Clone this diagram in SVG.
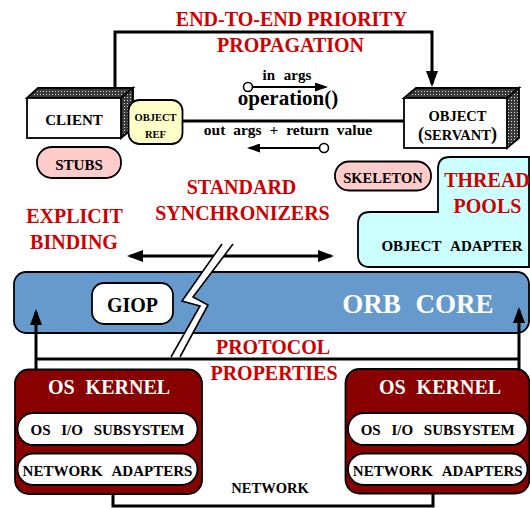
<svg xmlns="http://www.w3.org/2000/svg" width="530" height="508" viewBox="0 0 530 508">
<defs>
<style>
text{font-family:"Liberation Serif","Times New Roman",serif;font-weight:bold;text-anchor:middle;}
.red{fill:#cc0000;font-size:20px;}
.blk{fill:#000;}
.wht{fill:#fff;}
.box{stroke:#000;stroke-width:1.8;}
.ln{fill:none;stroke:#000;stroke-width:3;}
.thin{fill:none;stroke:#000;stroke-width:2;}
.pill{fill:#fff;stroke:#000;stroke-width:1.8;}
</style>
<pattern id="dots" width="3" height="3" patternUnits="userSpaceOnUse">
<rect width="3" height="3" fill="#3a3a3a"/>
<rect x="1" y="1" width="1" height="1" fill="#e0e0e0"/>
</pattern>
<marker id="ah" viewBox="0 0 16 12" refX="13" refY="6" markerWidth="16" markerHeight="12" markerUnits="userSpaceOnUse" orient="auto-start-reverse">
<path d="M0,0 L16,6 L0,12 z" fill="#000"/>
</marker>
<marker id="as" viewBox="0 0 13 9" refX="11" refY="4.5" markerWidth="13" markerHeight="9" markerUnits="userSpaceOnUse" orient="auto-start-reverse">
<path d="M0,0 L13,4.5 L0,9 z" fill="#000"/>
</marker>
</defs>

<g id="connectors">
<path class="ln" d="M115,88 V32 H432 V84" marker-end="url(#ah)"/>
<line class="ln" x1="182" y1="121" x2="405" y2="121"/>
<line class="thin" x1="252.5" y1="87" x2="326" y2="87" marker-end="url(#as)"/>
<circle cx="248" cy="87" r="4.5" fill="#fff" stroke="#000" stroke-width="1.6"/>
<line class="thin" x1="319.5" y1="148" x2="249" y2="148" marker-end="url(#as)"/>
<circle cx="324" cy="148" r="4.5" fill="#fff" stroke="#000" stroke-width="1.6"/>
<line class="ln" x1="130" y1="256" x2="331" y2="256" marker-start="url(#ah)" marker-end="url(#ah)"/>
<path class="ln" d="M113,494 V506 H433 V493"/>
</g>

<g id="title">
<text class="red" x="291.5" y="26">END-TO-END PRIORITY</text>
<text class="red" x="290.5" y="52">PROPAGATION</text>
</g>

<g id="operation-labels">
<text class="blk" x="287" y="80" font-size="15" word-spacing="5">in args</text>
<text class="blk" x="288" y="105" font-size="21">operation()</text>
<text class="blk" x="288" y="135" font-size="15.5" word-spacing="4">out args + return value</text>
</g>

<g id="client">
<polygon points="27,98 38,88 133,88 121,98" fill="url(#dots)" class="box"/>
<polygon points="121,98 133,88 133,128 121,138" fill="url(#dots)" class="box"/>
<rect x="27" y="98" width="94" height="40" fill="#fff" class="box"/>
<text class="blk" x="74" y="125" font-size="15">CLIENT</text>
</g>

<g id="object-ref">
<rect x="128.5" y="100" width="54" height="44" rx="11" fill="#ffffc8" class="box"/>
<text class="blk" x="155.5" y="120.5" font-size="10.5">OBJECT</text>
<text class="blk" x="155.5" y="138" font-size="10.5">REF</text>
</g>

<g id="servant">
<polygon points="404,98 416,88 519,88 507,98" fill="url(#dots)" class="box"/>
<polygon points="507,98 519,88 519,138 507,148" fill="url(#dots)" class="box"/>
<rect x="404" y="98" width="103" height="50" fill="#fff" class="box"/>
<text class="blk" x="457.5" y="120.5" font-size="14.5">OBJECT</text>
<text class="blk" x="457.5" y="140" font-size="14.5"><tspan font-size="18">(</tspan>SERVANT<tspan font-size="18">)</tspan></text>
</g>

<g id="stubs">
<rect x="37" y="147" width="84" height="31" rx="15" fill="#ffcccc" class="box"/>
<text class="blk" x="79" y="170" font-size="15">STUBS</text>
</g>

<g id="skeleton">
<rect x="335" y="161.5" width="96" height="29" rx="14" fill="#ffcccc" class="box"/>
<text class="blk" x="383" y="183" font-size="14.5">SKELETON</text>
</g>

<g id="object-adapter">
<path d="M450,157 H529 V267 H370 Q358,267 358,255 V224 Q358,212 370,212 H438 V169 Q438,157 450,157 Z" fill="#ccffff" class="box"/>
<text class="red" x="487" y="187">THREAD</text>
<text class="red" x="487.5" y="213">POOLS</text>
<text class="blk" x="452" y="251" font-size="15" word-spacing="6">OBJECT ADAPTER</text>
</g>

<g id="synchronizers">
<text class="red" x="241.5" y="194">STANDARD</text>
<text class="red" x="242.5" y="220">SYNCHRONIZERS</text>
</g>

<g id="binding">
<text class="red" x="74.5" y="223">EXPLICIT</text>
<text class="red" x="74" y="249">BINDING</text>
</g>

<g id="orb-core">
<rect x="14" y="272" width="515" height="61" rx="12" fill="#6699cc" class="box"/>
<text class="wht" x="418" y="313" font-size="27" word-spacing="8">ORB CORE</text>
</g>

<g id="giop">
<rect x="92" y="283" width="81" height="41" rx="12" fill="#fff" class="box"/>
<text class="blk" x="132.5" y="311.5" font-size="20">GIOP</text>
</g>

<g id="break">
<polygon points="222,244 182,301 200,306 171,357 180,357 208,305 193,297 233,244" fill="#fff"/>
<polyline points="222,244 182,301 200,306 171,357" fill="none" stroke="#000" stroke-width="1.6"/>
<polyline points="233,244 193,297 208,305 180,357" fill="none" stroke="#000" stroke-width="1.6"/>
</g>

<g id="protocol">
<path class="ln" d="M36,359 H519"/>
<line class="ln" x1="36" y1="312" x2="36" y2="394" marker-start="url(#ah)" marker-end="url(#ah)"/>
<line class="ln" x1="519" y1="310" x2="519" y2="392" marker-start="url(#ah)" marker-end="url(#ah)"/>
<text class="red" x="273" y="354">PROTOCOL</text>
<text class="red" x="274" y="380">PROPERTIES</text>
</g>

<g id="os-kernel-left">
<rect x="15" y="369.5" width="187" height="124.5" rx="14" fill="#880000" class="box"/>
<text class="wht" x="109" y="394" font-size="20" word-spacing="6">OS KERNEL</text>
<rect x="17.5" y="413" width="180" height="32" rx="16" class="pill"/>
<text class="blk" x="107.5" y="435" font-size="15" word-spacing="7">OS I/O SUBSYSTEM</text>
<rect x="17.5" y="453.5" width="180" height="31.5" rx="16" class="pill"/>
<text class="blk" x="107.5" y="475.5" font-size="15" word-spacing="6">NETWORK ADAPTERS</text>
</g>

<g id="os-kernel-right">
<rect x="345.5" y="369" width="184" height="124.5" rx="14" fill="#880000" class="box"/>
<text class="wht" x="440" y="394" font-size="20" word-spacing="6">OS KERNEL</text>
<rect x="348" y="413" width="179.5" height="32" rx="16" class="pill"/>
<text class="blk" x="437.7" y="435" font-size="15" word-spacing="7">OS I/O SUBSYSTEM</text>
<rect x="348" y="453.5" width="179.5" height="31.5" rx="16" class="pill"/>
<text class="blk" x="437.7" y="475.5" font-size="15" word-spacing="6">NETWORK ADAPTERS</text>
</g>

<g id="network">
<text class="blk" x="270" y="493" font-size="14.5">NETWORK</text>
</g>
</svg>
